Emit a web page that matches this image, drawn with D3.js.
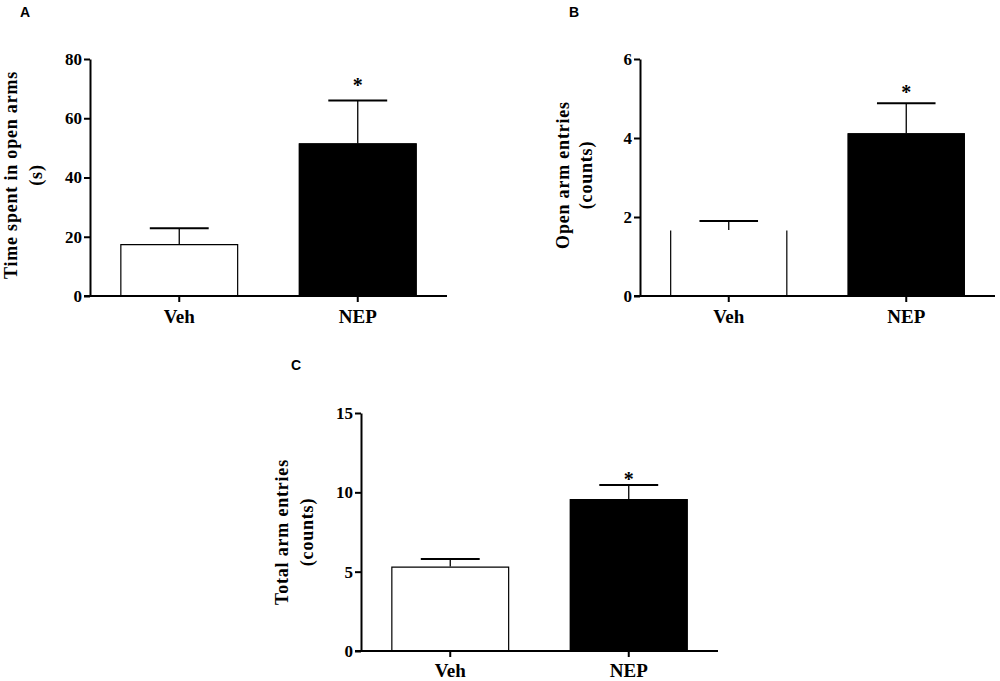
<!DOCTYPE html>
<html>
<head>
<meta charset="utf-8">
<script src="https://cdn.jsdelivr.net/npm/d3@7"></script>
<style>
  body { margin: 0; background: #fff; }
  svg { display: block; }
  .tick text { font-family: "Liberation Serif", "Times New Roman", serif; font-weight: bold; }
</style>
</head>
<body>
<div id="chart"></div>
<script>
// data (mean and SEM, one-sided error bars)
const groups = ["Veh", "NEP"];

const timeOpen = [17.5, 51.5];
const timeOpenSem = [5.4, 14.5];
const timeTicks = [0, 20, 40, 60, 80];

const openEntries = [1.67, 4.12];
const openEntriesSem = [0.23, 0.76];
const openTicks = [0, 2, 4, 6];

const totalEntries = [5.32, 9.57];
const totalEntriesSem = [0.48, 0.9];
const totalTicks = [0, 5, 10, 15];

// significance stars (NEP vs Veh), height in data units
const starTime = 72.6;
const starOpen = 5.27;
const starTotal = 11.1;

const fills = ["#fff", "#000"];

const panels = [
    { letter: "A", means: timeOpen, sem: timeOpenSem, ticks: timeTicks, star: starTime,
      label: ["Time spent in open arms", "(s)"],
      left: 90, right: 447, top: 59, bottom: 296,
      labelX: [11, 36], labelY: 175, letterPos: [25, 17], xLabelDy: 27, openTop: [false, false] },
    { letter: "B", means: openEntries, sem: openEntriesSem, ticks: openTicks, star: starOpen,
      label: ["Open arm entries", "(counts)"],
      left: 640, right: 995, top: 59, bottom: 296,
      labelX: [563, 586], labelY: 175, letterPos: [574, 17], xLabelDy: 27, openTop: [true, false] },
    { letter: "C", means: totalEntries, sem: totalEntriesSem, ticks: totalTicks, star: starTotal,
      label: ["Total arm entries", "(counts)"],
      left: 361, right: 718, top: 413, bottom: 651,
      labelX: [282, 307], labelY: 532, letterPos: [296, 370], xLabelDy: 26, openTop: [false, false] }
];

const svg = d3.select("#chart")
    .append("svg")
    .attr("width", 1000)
    .attr("height", 681);

panels.forEach(p => {
    const g = svg.append("g");
    const ext = d3.extent(p.ticks);

    const x = d3.scaleBand()
        .domain(groups)
        .range([p.left, p.right])
        .paddingInner(0.34)
        .paddingOuter(0.17);

    const y = d3.scaleLinear()
        .domain(ext)
        .range([p.bottom, p.top]);

    // bars
    g.selectAll("rect.bar")
        .data(groups)
        .enter()
        .append("rect")
        .attr("class", "bar")
        .attr("x", d => x(d))
        .attr("y", (d, i) => y(p.means[i]))
        .attr("width", x.bandwidth())
        .attr("height", (d, i) => y(0) - y(p.means[i]))
        .attr("fill", (d, i) => fills[i]);

    g.selectAll("path.outline")
        .data(groups)
        .enter()
        .append("path")
        .attr("class", "outline")
        .attr("d", (d, i) => {
            const x0 = x(d) + 0.5, x1 = x(d) + x.bandwidth() - 0.5, yt = y(p.means[i]) + 0.5, yb = y(0);
            return p.openTop[i]
                ? `M${x0},${yb}V${yt}M${x1},${yt}V${yb}`
                : `M${x0},${yb}V${yt}H${x1}V${yb}`;
        })
        .attr("fill", "none")
        .attr("stroke", "#000")
        .attr("stroke-width", 1.2);

    // error bars (upper only)
    groups.forEach((d, i) => {
        const cx = x(d) + x.bandwidth() / 2;
        const hi = y(p.means[i] + p.sem[i]);
        g.append("line")
            .attr("x1", cx).attr("x2", cx)
            .attr("y1", y(p.means[i])).attr("y2", hi)
            .attr("stroke", "#000").attr("stroke-width", 1.3);
        g.append("line")
            .attr("x1", cx - x.bandwidth() / 4).attr("x2", cx + x.bandwidth() / 4)
            .attr("y1", hi).attr("y2", hi)
            .attr("stroke", "#000").attr("stroke-width", 2);
    });

    // star over NEP
    g.append("text")
        .attr("x", x("NEP") + x.bandwidth() / 2)
        .attr("y", y(p.star))
        .attr("dy", "0.55em")
        .attr("text-anchor", "middle")
        .style("font-family", "'Liberation Serif', serif")
        .style("font-weight", "bold")
        .style("font-size", "20px")
        .text("*");

    // Y axis
    const yAxis = g.append("g")
        .attr("transform", `translate(${p.left},0)`)
        .call(d3.axisLeft(y).tickValues(p.ticks).tickFormat(d3.format("d"))
            .tickSize(6).tickSizeOuter(0).tickPadding(2));
    yAxis.select(".domain").attr("stroke-width", 2);
    yAxis.selectAll(".tick line").attr("stroke-width", 2);
    yAxis.selectAll(".tick text").style("font-size", "17px").attr("fill", "#000");

    // X axis
    const xAxis = g.append("g")
        .attr("transform", `translate(0,${p.bottom})`)
        .call(d3.axisBottom(x).tickSize(6).tickSizeOuter(0));
    xAxis.select(".domain").remove();
    xAxis.selectAll(".tick line").attr("stroke-width", 2);
    xAxis.selectAll(".tick text")
        .attr("y", p.xLabelDy).attr("dy", 0)
        .style("font-size", "19px").attr("fill", "#000");
    xAxis.append("line")
        .attr("x1", p.left - 6).attr("x2", p.right)
        .attr("y1", 0).attr("y2", 0)
        .attr("stroke", "#000").attr("stroke-width", 2);

    // Y label, two lines
    p.label.forEach((t, k) => {
        g.append("text")
            .attr("transform", `translate(${p.labelX[k]},${p.labelY}) rotate(-90)`)
            .attr("text-anchor", "middle")
            .attr("dy", "0.35em")
            .style("font-family", "'Liberation Serif', serif")
            .style("font-weight", "bold")
            .style("font-size", "18px")
            .style("letter-spacing", "0.8px")
            .text(t);
    });

    // panel letter
    g.append("text")
        .attr("x", p.letterPos[0])
        .attr("y", p.letterPos[1])
        .attr("text-anchor", "middle")
        .style("font-family", "'Liberation Sans', Arial, sans-serif")
        .style("font-weight", "bold")
        .style("font-size", "14px")
        .text(p.letter);
});
</script>
</body>
</html>
